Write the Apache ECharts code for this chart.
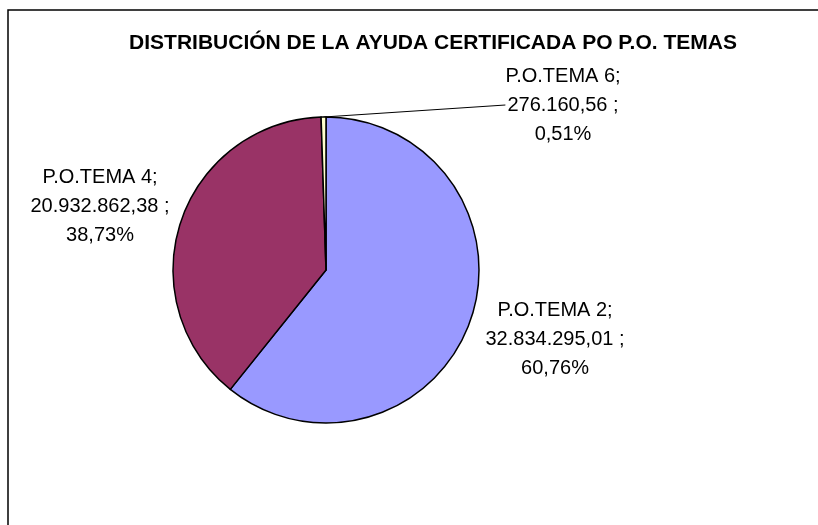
<!DOCTYPE html>
<html>
<head>
<meta charset="utf-8">
<script src="https://cdn.jsdelivr.net/npm/echarts@6/dist/echarts.min.js"></script>
<style>
  html, body { margin: 0; padding: 0; background: #fff; }
  #chart { width: 818px; height: 525px; }
</style>
</head>
<body>
<div id="chart"></div>
<script>
const titleText = 'DISTRIBUCIÓN DE LA AYUDA CERTIFICADA PO P.O. TEMAS';
const names = ['P.O.TEMA 2', 'P.O.TEMA 4', 'P.O.TEMA 6'];
const values = [32834295.01, 20932862.38, 276160.56];
const colors = ['#9999FF', '#993366', '#FFFFCC'];

// label spots (centre of the three-line block)
const labelSpots = [[555, 339], [100, 206], [563, 105]];

function fmtEs(v) {
  const parts = v.toFixed(2).split('.');
  const int = parts[0].replace(/\B(?=(\d{3})+(?!\d))/g, '.');
  return int + ',' + parts[1];
}

const chart = echarts.init(document.getElementById('chart'));
chart.setOption({
  animation: false,
  title: {
    text: titleText,
    left: 428,
    top: 28,
    textAlign: 'center',
    textStyle: { fontFamily: 'Liberation Sans', fontWeight: 'bold', fontSize: 21, color: '#000' }
  },
  graphic: [{
    type: 'rect',
    shape: { x: 8, y: 10, width: 900, height: 600 },
    style: { fill: 'none', stroke: '#000', lineWidth: 1.5 }
  }],
  series: [{
    type: 'pie',
    center: [326, 270],
    radius: 153,
    startAngle: 90,
    clockwise: true,
    avoidLabelOverlap: false,
    itemStyle: { borderColor: '#000', borderWidth: 1.5 },
    label: {
      show: true,
      fontFamily: 'Liberation Sans',
      fontSize: 20,
      lineHeight: 29,
      color: '#000',
      align: 'center',
      formatter: p => p.name + ';\n' + fmtEs(p.value) + ' ;\n' + p.percent.toFixed(2).replace('.', ',') + '%'
    },
    labelLine: { show: false, length2: 0, lineStyle: { color: '#000', width: 1 } },
    labelLayout: p => ({
      x: labelSpots[p.dataIndex][0],
      y: labelSpots[p.dataIndex][1],
      align: 'center',
      verticalAlign: 'middle'
    }),
    emphasis: { disabled: true },
    data: names.map((n, i) => ({
      name: n,
      value: values[i],
      itemStyle: { color: colors[i] },
      labelLine: { show: i === 2 }
    }))
  }]
});
</script>
</body>
</html>
